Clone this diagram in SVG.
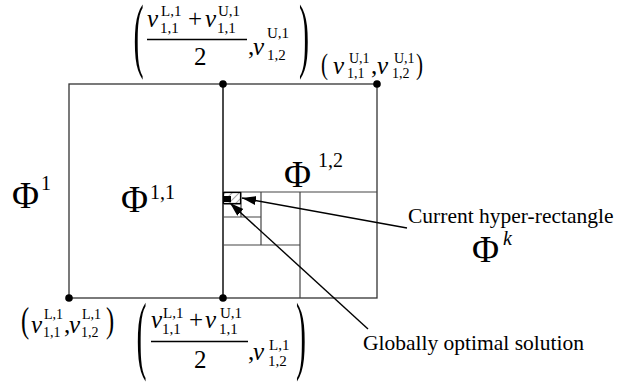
<svg xmlns="http://www.w3.org/2000/svg" width="617" height="387" viewBox="0 0 617 387">
<style>
text{font-family:"Liberation Serif","Times New Roman",serif;fill:#000}
.mi{font-size:25px;font-style:italic}
.mn{font-size:25px}
.sc{font-size:15px}
.ss{font-size:14px}
.phi{font-size:37px}
.psup{font-size:20px}
.lbl{font-size:21.5px}
.frame{fill:none;stroke:#333;stroke-width:1.3}
.grid{fill:none;stroke:#444;stroke-width:1.2}
.dot{fill:#000}
.conn{stroke:#000;stroke-width:1.4;fill:none;marker-end:url(#ah)}
</style>
<defs>
<marker id="ah" markerUnits="userSpaceOnUse" markerWidth="16" markerHeight="10" refX="14" refY="4.5" orient="auto">
<path d="M0,0 L14,4.5 L0,9 z" fill="#000"/>
</marker>
<pattern id="hatch" patternUnits="userSpaceOnUse" width="5" height="5" patternTransform="rotate(45)">
<line x1="0" y1="0" x2="0" y2="5" stroke="#555" stroke-width="1"/>
</pattern>
</defs>

<g id="rect-phi1">
<rect class="frame" x="69" y="84" width="154" height="214"/>
<text class="phi" x="12" y="208">Φ</text><text class="psup" x="41" y="190">1</text>
</g>
<g id="rect-phi11">
<text class="phi" x="121" y="212">Φ</text><text class="psup" x="150" y="199">1,1</text>
</g>
<g id="rect-phi12">
<rect class="frame" x="223" y="84" width="154" height="214"/>
<line class="grid" x1="223" y1="192" x2="377" y2="192"/>
<text class="phi" x="284" y="187">Φ</text><text class="psup" x="318" y="167">1,2</text>
</g>
<g id="subdivisions">
<line class="grid" x1="300" y1="192" x2="300" y2="298"/>
<line class="grid" x1="223" y1="245" x2="300" y2="245"/>
<line class="grid" x1="261" y1="192" x2="261" y2="245"/>
<line class="grid" x1="223" y1="217" x2="261" y2="217"/>
<line class="grid" x1="241" y1="192" x2="241" y2="217"/>
<line class="grid" x1="223" y1="204" x2="241" y2="204"/>
</g>
<g id="current-rect">
<rect x="223.5" y="192.5" width="17" height="11" fill="url(#hatch)" stroke="#000" stroke-width="1.2"/>
</g>
<g id="optimum">
<rect x="224" y="196" width="7" height="6" fill="#000"/>
</g>

<g id="corner-points">
<circle class="dot" cx="69" cy="298" r="3.8"/>
<circle class="dot" cx="223" cy="298" r="3.8"/>
<circle class="dot" cx="223" cy="84" r="3.8"/>
<circle class="dot" cx="377" cy="84" r="3.8"/>
</g>

<g id="label-top-mid">
<text class="mn" transform="translate(133.5,62) scale(0.37,1)" style="font-size:82px">(</text>
<text class="mi" x="147" y="27">v</text><text class="sc" x="161" y="16">L,1</text><text class="sc" x="160" y="33">1,1</text>
<text class="mn" x="188" y="27">+</text>
<text class="mi" x="205" y="27">v</text><text class="sc" x="218" y="16">U,1</text><text class="sc" x="217" y="33">1,1</text>
<line x1="147" y1="39.5" x2="247" y2="39.5" stroke="#000" stroke-width="1.3"/>
<text class="mn" x="194" y="65">2</text>
<text class="mn" x="248" y="55">,</text>
<text class="mi" x="253" y="55">v</text><text class="sc" x="267" y="38">U,1</text><text class="sc" x="267" y="60">1,2</text>
<text class="mn" transform="translate(299,62) scale(0.37,1)" style="font-size:82px">)</text>
</g>

<g id="label-top-right">
<text class="mn" transform="translate(321,74) scale(0.7,1)" style="font-size:30px">(</text>
<text class="mi" x="333" y="74">v</text><text class="ss" x="349" y="63">U,1</text><text class="ss" x="347" y="78">1,1</text>
<text class="mn" x="371" y="74">,</text>
<text class="mi" x="377" y="74">v</text><text class="ss" x="394" y="63">U,1</text><text class="ss" x="392" y="78">1,2</text>
<text class="mn" transform="translate(416,74) scale(0.7,1)" style="font-size:30px">)</text>
</g>

<g id="label-bottom-left">
<text class="mn" transform="translate(21,332) scale(0.7,1)" style="font-size:35px">(</text>
<text class="mi" x="31" y="333">v</text><text class="ss" x="44" y="319">L,1</text><text class="ss" x="43" y="337">1,1</text>
<text class="mn" x="64" y="333">,</text>
<text class="mi" x="69" y="333">v</text><text class="ss" x="82" y="319">L,1</text><text class="ss" x="81" y="337">1,2</text>
<text class="mn" transform="translate(106,332) scale(0.7,1)" style="font-size:35px">)</text>
</g>

<g id="label-bottom-mid">
<text class="mn" transform="translate(136.5,363) scale(0.35,1)" style="font-size:86px">(</text>
<text class="mi" x="151" y="328">v</text><text class="sc" x="163" y="318">L,1</text><text class="sc" x="162" y="334">1,1</text>
<text class="mn" x="189" y="328">+</text>
<text class="mi" x="205" y="328">v</text><text class="sc" x="220" y="318">U,1</text><text class="sc" x="219" y="334">1,1</text>
<line x1="151" y1="341.5" x2="248" y2="341.5" stroke="#000" stroke-width="1.3"/>
<text class="mn" x="194" y="368">2</text>
<text class="mn" x="248" y="360">,</text>
<text class="mi" x="253" y="360">v</text><text class="sc" x="269" y="350">L,1</text><text class="sc" x="268" y="366">1,2</text>
<text class="mn" transform="translate(296,363) scale(0.35,1)" style="font-size:86px">)</text>
</g>

<g id="label-current">
<text class="lbl" x="408" y="223">Current hyper-rectangle</text>
<text class="phi" x="472" y="262">Φ</text><text class="psup" x="503" y="245" style="font-style:italic">k</text>
</g>
<g id="label-global">
<text class="lbl" x="363" y="350">Globally optimal solution</text>
</g>

<g id="connectors">
<line class="conn" x1="407" y1="228" x2="242" y2="198"/>
<line class="conn" x1="368" y1="329" x2="230" y2="203"/>
</g>
</svg>
